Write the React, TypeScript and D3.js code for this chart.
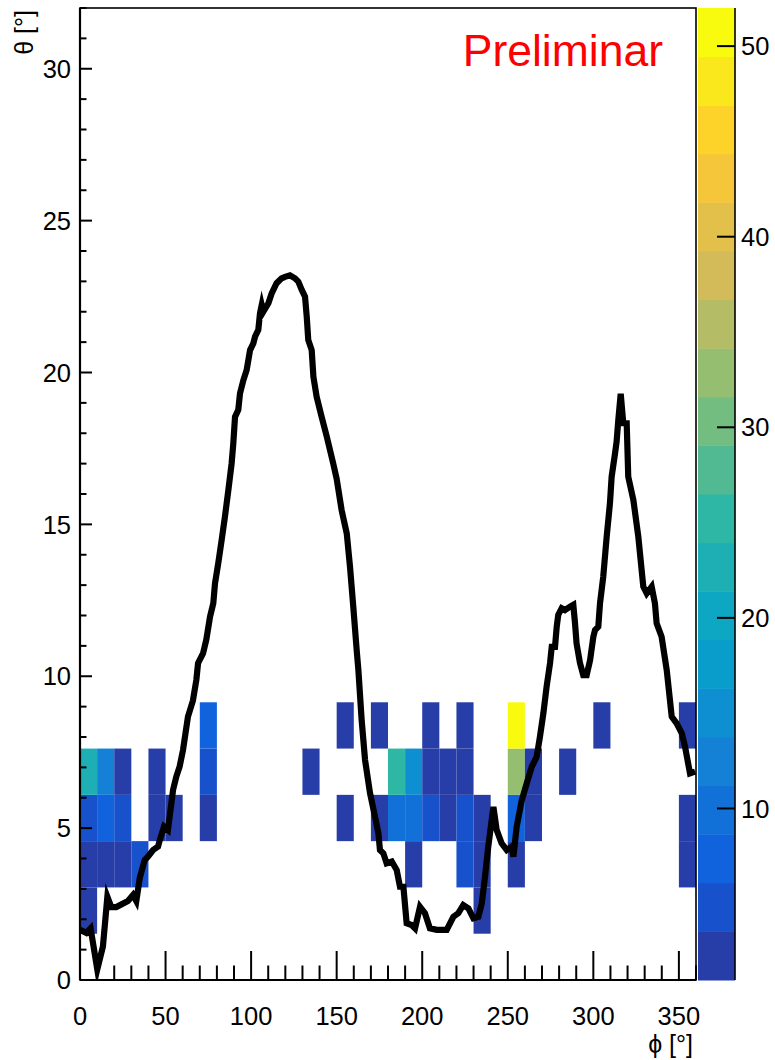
import React from "react";
import * as d3 from "d3";

// ---- data ----
const PHI_MIN = 0, PHI_MAX = 360, N_PHI_BINS = 36;
const THETA_MIN = 0, THETA_MAX = 32, N_THETA_BINS = 21;
const Z_MIN = 1, Z_MAX = 52, N_CONTOURS = 20;

const xTicksMajor = [0, 50, 100, 150, 200, 250, 300, 350];
const yTicksMajor = [0, 5, 10, 15, 20, 25, 30];
const zTicks = [10, 20, 30, 40, 50];

// heat-map cells: phi bin index, theta bin index, counts
const cellPhiBin = [0, 23, 0, 1, 2, 3, 19, 22, 23, 25, 35, 0, 1, 2, 4, 5, 7, 15, 17, 18, 19, 20, 21, 22, 23, 25, 26, 35, 0, 1, 2, 4, 7, 13, 18, 19, 20, 21, 22, 25, 26, 28, 7, 15, 17, 20, 22, 25, 30, 35];
const cellThetaBin = [1, 1, 2, 2, 2, 2, 2, 2, 2, 2, 2, 3, 3, 3, 3, 3, 3, 3, 3, 3, 3, 3, 3, 3, 3, 3, 3, 3, 4, 4, 4, 4, 4, 4, 4, 4, 4, 4, 4, 4, 4, 4, 5, 5, 5, 5, 5, 5, 5, 5];
const cellCount = [2, 1, 3, 3, 2, 5, 2, 5, 3, 2, 2, 5, 7, 5, 2, 3, 2, 1, 2, 10, 10, 5, 3, 5, 3, 7, 2, 2, 23, 12, 3, 2, 5, 1, 25, 15, 3, 3, 2, 33, 2, 1, 7, 2, 2, 1, 2, 52, 1, 2];

// horizon profile
const horizonPhi = [0, 3.7, 6.2, 10.1, 13.4, 16.0, 18.3, 21.2, 28.0, 31.0, 32.9, 34.9, 37.8, 39.7, 42.7, 45.6, 46.6, 49.1, 51.4, 52.4, 54.4, 56.3, 58.2, 60.2, 63.1, 66.0, 68.0, 69.0, 71.9, 73.8, 76.0, 77.9, 78.9, 80.8, 82.8, 84.7, 86.7, 88.6, 89.6, 90.6, 92.5, 93.5, 95.5, 97.4, 99.4, 101.3, 102.3, 104.2, 105.2, 106.2, 107.1, 110.1, 112.0, 114.9, 117.8, 119.8, 122.7, 125.7, 127.6, 129.6, 131.5, 132.5, 133.4, 135.4, 136.4, 138.3, 141.2, 144.2, 148.0, 150.0, 152.9, 155.9, 157.8, 159.7, 161.7, 162.7, 164.6, 166.6, 169.5, 172.4, 174.4, 175.3, 177.3, 179.2, 182.2, 185.1, 187.0, 189.0, 190.9, 193.8, 195.8, 198.7, 201.6, 204.5, 208.5, 214.3, 218.2, 221.1, 224.0, 227.0, 229.9, 232.8, 234.8, 236.7, 238.6, 241.6, 243.5, 246.4, 249.4, 252.3, 253.3, 255.2, 258.1, 261.1, 264.0, 266.9, 268.8, 270.8, 272.7, 274.7, 275.7, 277.6, 278.6, 279.5, 281.5, 283.4, 286.4, 288.3, 289.3, 290.2, 292.2, 294.1, 296.1, 298.1, 300.0, 301.0, 302.9, 303.9, 305.8, 307.8, 309.7, 310.7, 312.7, 313.6, 314.6, 316.0, 317.5, 319.5, 320.4, 323.4, 326.3, 329.2, 331.2, 334.1, 336.0, 337.0, 339.9, 342.9, 345.8, 348.7, 351.7, 353.6, 356.5, 359.5];
const horizonTheta = [1.65, 1.55, 1.7, 0.35, 1.1, 2.74, 2.4, 2.4, 2.6, 2.8, 2.6, 3.35, 3.95, 4.06, 4.28, 4.39, 4.6, 5.05, 4.94, 5.38, 6.26, 6.7, 7.02, 7.57, 8.67, 9.2, 9.88, 10.43, 10.75, 11.2, 11.96, 12.4, 13.06, 13.72, 14.49, 15.25, 16.13, 17.0, 17.67, 18.54, 18.77, 19.31, 19.75, 20.08, 20.74, 20.96, 21.18, 21.4, 21.95, 22.22, 22.0, 22.28, 22.6, 22.94, 23.1, 23.15, 23.2, 23.1, 22.99, 22.72, 22.5, 21.84, 21.07, 20.74, 19.86, 19.2, 18.54, 17.89, 17.0, 16.5, 15.47, 14.7, 13.6, 12.3, 10.86, 10.2, 8.56, 7.24, 6.15, 5.38, 4.83, 4.28, 4.17, 3.84, 3.9, 3.62, 3.07, 3.07, 1.87, 1.81, 1.7, 2.41, 2.2, 1.7, 1.65, 1.65, 2.08, 2.2, 2.47, 2.36, 2.03, 2.08, 2.52, 3.4, 4.39, 5.7, 4.94, 4.5, 4.28, 4.39, 4.06, 5.05, 5.9, 6.48, 7.02, 7.35, 8.01, 8.78, 9.66, 10.43, 10.97, 10.97, 11.63, 12.02, 12.24, 12.18, 12.29, 12.35, 11.74, 11.08, 10.43, 10.04, 10.04, 10.53, 11.3, 11.52, 11.63, 12.4, 13.28, 14.59, 15.69, 16.57, 17.34, 17.72, 18.44, 19.3, 18.33, 18.33, 16.57, 15.8, 14.59, 12.95, 12.73, 12.95, 12.4, 11.74, 11.3, 10.2, 8.67, 8.45, 8.12, 7.68, 6.8, 6.86];

// kBird palette stops
const birdStops = [0, 0.125, 0.25, 0.375, 0.5, 0.625, 0.75, 0.875, 1];
const birdColors = ["rgb(53,42,135)", "rgb(15,92,221)", "rgb(20,129,214)", "rgb(6,164,202)", "rgb(46,183,164)", "rgb(135,191,119)", "rgb(209,187,89)", "rgb(254,200,50)", "rgb(249,251,14)"];

const FONT = "'Liberation Sans', Arial, Helvetica, sans-serif";

export default function App() {
  const L = 80, R = 696, T = 8, B = 980;
  const x = d3.scaleLinear().domain([PHI_MIN, PHI_MAX]).range([L, R]);
  const y = d3.scaleLinear().domain([THETA_MIN, THETA_MAX]).range([B, T]);
  const zc = d3.scaleLinear().domain([Z_MIN, Z_MAX]).range([B, T]);
  const palette = d3.scaleLinear<string>().domain(birdStops).range(birdColors).interpolate(d3.interpolateRgb);
  const levelColor = (k: number) => {
    const idx = Math.floor((k + 0.99) * 255 / N_CONTOURS);
    return palette(Math.min(1, idx / 254));
  };
  const levelOf = (v: number) => Math.max(0, Math.min(N_CONTOURS - 1, Math.floor(0.01 + (v - Z_MIN) * N_CONTOURS / (Z_MAX - Z_MIN))));
  const phiW = (PHI_MAX - PHI_MIN) / N_PHI_BINS;
  const thW = (THETA_MAX - THETA_MIN) / N_THETA_BINS;

  const line = d3.line<number>().x((_, i) => x(horizonPhi[i])).y((_, i) => y(horizonTheta[i]));
  const xMinor = d3.range(PHI_MIN, PHI_MAX + 1, 10);
  const yMinor = d3.range(THETA_MIN, THETA_MAX + 1, 1);
  const levels = d3.range(N_CONTOURS);
  const zStep = (Z_MAX - Z_MIN) / N_CONTOURS;
  const CB_L = 698, CB_R = 735;

  return (
    <svg width={775} height={1060} style={{ position: "absolute", left: 0, top: 0, background: "#fff" }} fontFamily={FONT}>
      <rect x={0} y={0} width={775} height={1060} fill="#fff" />
      <defs>
        <clipPath id="frame"><rect x={L} y={T} width={R - L} height={B - T} /></clipPath>
      </defs>
      {/* heat map cells */}
      <g>
        {cellCount.map((c, i) => {
          const p0 = PHI_MIN + cellPhiBin[i] * phiW;
          const t0 = THETA_MIN + cellThetaBin[i] * thW;
          return (
            <rect key={i} x={x(p0)} y={y(t0 + thW)} width={x(p0 + phiW) - x(p0)} height={y(t0) - y(t0 + thW)}
              fill={levelColor(levelOf(c))} />
          );
        })}
      </g>
      {/* horizon */}
      <path d={line(horizonPhi) || ""} fill="none" stroke="#000" strokeWidth={6.2} strokeLinejoin="miter" strokeMiterlimit={6} clipPath="url(#frame)" />
      {/* frame */}
      <rect x={L} y={T} width={R - L} height={B - T} fill="none" stroke="#000" strokeWidth={1.6} />
      <line x1={L} x2={R} y1={B} y2={B} stroke="#000" strokeWidth={2.2} />
      <line x1={L} x2={L} y1={T} y2={B} stroke="#000" strokeWidth={2.2} />
      {/* x ticks */}
      {xMinor.map((v) => (
        <line key={"xm" + v} x1={x(v)} x2={x(v)} y1={B} y2={B - (v % 50 === 0 ? 29 : 14.5)} stroke="#000" strokeWidth={2} />
      ))}
      {xTicksMajor.map((v) => (
        <text key={"xl" + v} x={x(v)} y={1025} fontSize={25.5} textAnchor="middle">{v}</text>
      ))}
      {/* y ticks */}
      {yMinor.map((v) => (
        <line key={"ym" + v} x1={L} x2={L + (v % 5 === 0 ? 12 : 6.5)} y1={y(v)} y2={y(v)} stroke="#000" strokeWidth={2} />
      ))}
      {yTicksMajor.map((v) => (
        <text key={"yl" + v} x={71} y={y(v)} dy="0.36em" fontSize={25.5} textAnchor="end">{v}</text>
      ))}
      {/* axis titles */}
      <text x={693} y={1053} fontSize={25} textAnchor="end">ϕ [°]</text>
      <text transform="translate(33,10) rotate(-90)" fontSize={25} textAnchor="end">θ [°]</text>
      {/* Preliminar */}
      <text x={663} y={66} fontSize={44.5} fill="#ff0000" textAnchor="end">Preliminar</text>
      {/* color bar */}
      {levels.map((k) => (
        <rect key={"cb" + k} x={CB_L} width={CB_R - CB_L} y={zc(Z_MIN + (k + 1) * zStep)} height={zc(Z_MIN + k * zStep) - zc(Z_MIN + (k + 1) * zStep) + 0.5}
          fill={levelColor(k)} />
      ))}
      <line x1={CB_R} x2={CB_R} y1={T} y2={B} stroke="#000" strokeWidth={1.6} />
      {zTicks.map((v) => (
        <g key={"zt" + v}>
          <line x1={CB_R - 18} x2={CB_R} y1={zc(v)} y2={zc(v)} stroke="#000" strokeWidth={2} />
          <text x={741} y={zc(v)} dy="0.36em" fontSize={25.5} textAnchor="start">{v}</text>
        </g>
      ))}
    </svg>
  );
}
